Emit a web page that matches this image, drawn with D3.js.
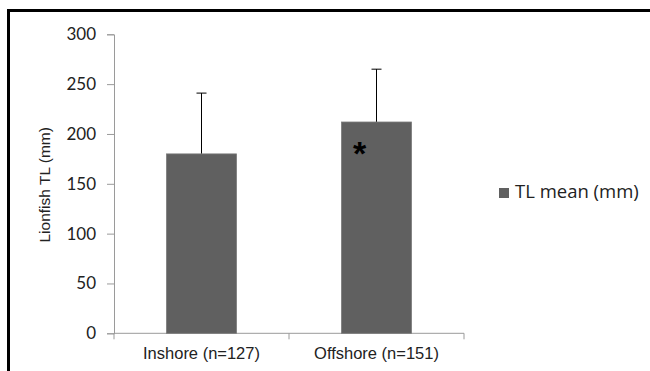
<!DOCTYPE html>
<html>
<head>
<meta charset="utf-8">
<script src="https://cdn.jsdelivr.net/npm/d3@7/dist/d3.min.js"></script>
<style>
  html, body { margin: 0; padding: 0; background: #fff; }
  svg { display: block; }
</style>
</head>
<body>
<script>
// Lionfish total length by site
const categories = ["Inshore (n=127)", "Offshore (n=151)"];
const meanTL = [180, 212];
const errorTop = [241, 265];   // mean + SD
const significant = [false, true];
const yTicks = [0, 50, 100, 150, 200, 250, 300];
const seriesName = "TL mean (mm)";
const yTitle = "Lionfish TL (mm)";

const W = 650, H = 371;
const plot = { left: 114, right: 464, top: 34.3, bottom: 333.3 };
const barColor = "#606060";

const svg = d3.select("body").append("svg").attr("width", W).attr("height", H);

// outer frame (top and left edges show)
svg.append("rect")
  .attr("x", 8.5).attr("y", 10.5)
  .attr("width", W + 20).attr("height", H + 20)
  .attr("fill", "none").attr("stroke", "#000").attr("stroke-width", 3);

const x = d3.scaleBand().domain(categories)
  .range([plot.left, plot.right])
  .paddingInner(0.6).paddingOuter(0.3);
const y = d3.scaleLinear().domain([0, 300]).range([plot.bottom, plot.top]);

const axisColor = "#9a9a9a";

// y axis
const yAxis = svg.append("g").attr("transform", `translate(${plot.left},0)`)
  .call(d3.axisLeft(y).tickValues(yTicks).tickSize(7).tickPadding(11));
yAxis.select(".domain").attr("stroke", axisColor);
yAxis.selectAll(".tick line").attr("stroke", axisColor);
yAxis.selectAll(".tick text")
  .attr("fill", "#222").style("font-family", "Lato, 'Open Sans', sans-serif")
  .style("font-size", "17px");

// x axis with category separators
const xg = svg.append("g");
xg.append("line")
  .attr("x1", plot.left).attr("x2", plot.right)
  .attr("y1", plot.bottom).attr("y2", plot.bottom)
  .attr("stroke", axisColor);
const bounds = [plot.left].concat(categories.map(c => x(c) + x.bandwidth() / 2 + x.step() / 2));
xg.selectAll("line.sep").data(bounds).enter().append("line")
  .attr("class", "sep")
  .attr("x1", d => d).attr("x2", d => d)
  .attr("y1", plot.bottom).attr("y2", plot.bottom + 6)
  .attr("stroke", axisColor);
xg.selectAll("text").data(categories).enter().append("text")
  .attr("x", d => x(d) + x.bandwidth() / 2)
  .attr("y", 359)
  .attr("text-anchor", "middle")
  .attr("fill", "#222")
  .style("font-family", "'Liberation Sans', Arial, sans-serif")
  .style("font-size", "16.5px")
  .text(d => d);

// y axis title
svg.append("text")
  .attr("transform", `translate(50,${(plot.top + plot.bottom) / 2 + 1}) rotate(-90)`)
  .attr("text-anchor", "middle")
  .attr("fill", "#222")
  .style("font-family", "'Liberation Sans', Arial, sans-serif")
  .style("font-size", "15.5px")
  .text(yTitle);

const data = categories.map((c, i) => ({ c, v: meanTL[i], e: errorTop[i], s: significant[i] }));

// error bars (upper only)
const eb = svg.append("g").selectAll("g").data(data).enter().append("g");
eb.append("line")
  .attr("x1", d => x(d.c) + x.bandwidth() / 2).attr("x2", d => x(d.c) + x.bandwidth() / 2)
  .attr("y1", d => y(d.v)).attr("y2", d => y(d.e))
  .attr("stroke", "#000").attr("stroke-width", 1);
eb.append("line")
  .attr("x1", d => x(d.c) + x.bandwidth() / 2 - 5).attr("x2", d => x(d.c) + x.bandwidth() / 2 + 5)
  .attr("y1", d => y(d.e)).attr("y2", d => y(d.e))
  .attr("stroke", "#000").attr("stroke-width", 1);

// bars
svg.append("g").selectAll("rect").data(data).enter().append("rect")
  .attr("x", d => x(d.c))
  .attr("y", d => y(d.v))
  .attr("width", x.bandwidth())
  .attr("height", d => y(0) - y(d.v))
  .attr("fill", barColor)
  .attr("stroke", "#7a7a7a").attr("stroke-width", 0.8);

// significance marker
svg.append("g").selectAll("text").data(data.filter(d => d.s)).enter().append("text")
  .attr("x", d => x(d.c) + 18)
  .attr("y", d => y(d.v) + 43)
  .attr("text-anchor", "middle")
  .attr("fill", "#000")
  .style("font-family", "'Liberation Sans', Arial, sans-serif")
  .style("font-size", "34px")
  .style("font-weight", "bold")
  .text("*");

// legend
const lg = svg.append("g").attr("transform", "translate(499,188)");
lg.append("rect").attr("width", 10).attr("height", 10).attr("fill", barColor);
lg.append("text")
  .attr("x", 16).attr("y", 10)
  .attr("fill", "#222")
  .style("font-family", "'Open Sans', Lato, sans-serif")
  .style("font-size", "18.5px")
  .text(seriesName);
</script>
</body>
</html>
